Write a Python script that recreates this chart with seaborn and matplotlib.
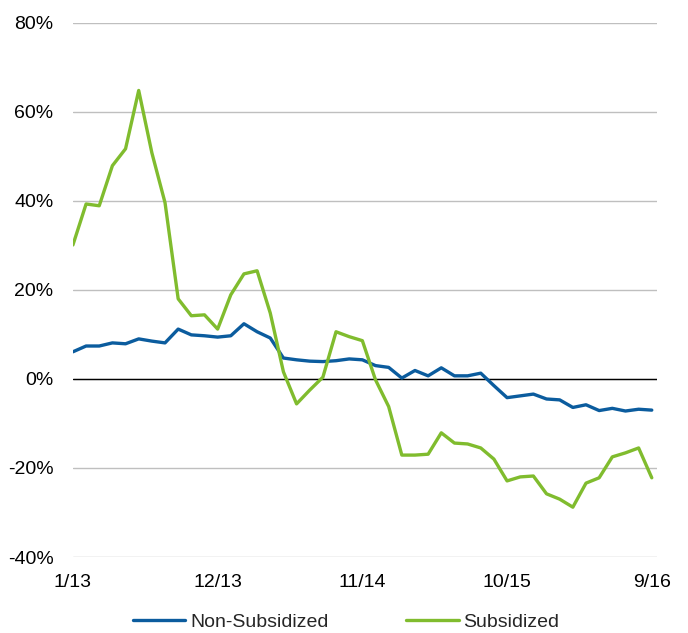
import numpy as np
import pandas as pd
import matplotlib
matplotlib.use("Agg")
import matplotlib.pyplot as plt
import seaborn as sns
from matplotlib.lines import Line2D

# monthly, 1/13 .. 9/16 (45 months), y/y change in %
months = pd.period_range("2013-01", "2016-09", freq="M")
non_subsidized = [6.1, 7.4, 7.4, 8.1, 7.9, 9.0, 8.5, 8.1, 11.2, 9.9,
                  9.7, 9.4, 9.7, 12.4, 10.6, 9.2, 4.7, 4.3, 4.0, 3.9,
                  4.1, 4.5, 4.3, 3.0, 2.6, 0.2, 1.9, 0.7, 2.5, 0.7,
                  0.7, 1.3, -1.5, -4.2, -3.8, -3.4, -4.5, -4.7, -6.4, -5.8,
                  -7.1, -6.6, -7.2, -6.8, -7.0]
subsidized = [30.1, 39.3, 38.9, 47.9, 51.7, 64.8, 50.8, 39.6, 18.0, 14.2,
              14.4, 11.2, 18.9, 23.6, 24.3, 14.8, 1.6, -5.6, -2.5, 0.4,
              10.6, 9.5, 8.6, -0.2, -6.2, -17.1, -17.1, -16.9, -12.1, -14.4,
              -14.6, -15.5, -18.0, -22.9, -22.0, -21.8, -25.8, -27.0, -28.8, -23.4,
              -22.2, -17.5, -16.6, -15.5, -22.2]
tick_labels = ["1/13", "12/13", "11/14", "10/15", "9/16"]
y_ticks = [-40, -20, 0, 20, 40, 60, 80]

df = pd.DataFrame({
    "idx": np.arange(len(months)),
    "Non-Subsidized": non_subsidized,
    "Subsidized": subsidized,
}).melt(id_vars="idx", var_name="series", value_name="value")

sns.set_style("white")
plt.rcParams["font.family"] = ["Liberation Sans", "DejaVu Sans"]

fig = plt.figure(figsize=(6.88, 6.33), dpi=100)
ax = fig.add_axes([0.106, 0.120, 0.849, 0.844])

palette = {"Non-Subsidized": "#0B5C9E", "Subsidized": "#80BC2E"}
sns.lineplot(data=df, x="idx", y="value", hue="series", palette=palette,
             linewidth=2.4, ax=ax, legend=False)

ax.set_xlim(0, 44.4)
ax.set_ylim(-40, 80)
ax.set_yticks(y_ticks)
ax.set_yticklabels([f"{v}%" for v in y_ticks])
ax.set_xticks([0, 11, 22, 33, 44])
ax.set_xticklabels(tick_labels)
ax.tick_params(axis="both", length=0, labelsize=14, colors="black")
ax.tick_params(axis="y", pad=14)
ax.tick_params(axis="x", pad=12)
ax.set_xlabel("")
ax.set_ylabel("")
for s in ax.spines.values():
    s.set_visible(False)

ax.yaxis.grid(True, color="#BFBFBF", linewidth=1)
ax.xaxis.grid(False)
ax.set_axisbelow(True)
ax.axhline(0, color="black", linewidth=1, zorder=1.5)

handles = [Line2D([], [], color=palette[k], linewidth=2.4) for k in palette]
fig.legend(handles, list(palette.keys()), loc="center",
           bbox_to_anchor=(0.503, 0.017), ncol=2, frameon=False, fontsize=14,
           handlelength=2.7, handletextpad=0.25, columnspacing=4.0)

fig.savefig("out.png", dpi=100)
